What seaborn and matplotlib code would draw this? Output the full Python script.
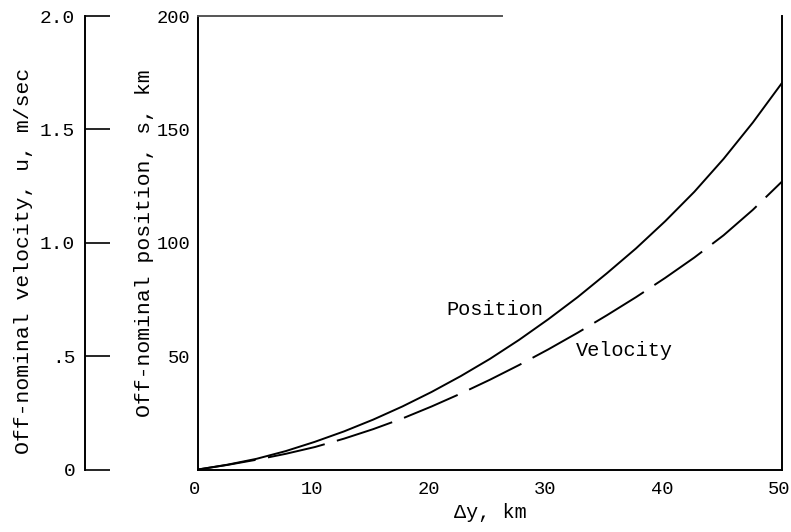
import numpy as np
import pandas as pd
import matplotlib
matplotlib.use("Agg")
import matplotlib.pyplot as plt
import matplotlib.transforms as mtransforms
import seaborn as sns

# valori
dy_km = [0, 2.5, 5, 7.5, 10, 12.5, 15, 17.5, 20, 22.5, 25,
         27.5, 30, 32.5, 35, 37.5, 40, 42.5, 45, 47.5, 50]
position_km = [0, 2.1, 4.7, 8.1, 12.2, 16.8, 22, 27.8, 34.2, 41.2, 48.8,
               57.2, 66.3, 76, 86.5, 97.5, 109.5, 122.5, 137, 153, 170.5]
velocity_ms = [0, 0.02, 0.043, 0.069, 0.099, 0.136, 0.178, 0.225, 0.278, 0.335, 0.396,
               0.461, 0.53, 0.603, 0.68, 0.76, 0.845, 0.935, 1.033, 1.145, 1.27]

x_ticks = [0, 10, 20, 30, 40, 50]
s_ticks = [0, 50, 100, 150, 200]
s_labels = ["", "50", "100", "150", "200"]
u_ticks = [0, 0.5, 1.0, 1.5, 2.0]
u_labels = ["0", ".5", "1.0", "1.5", "2.0"]

df = pd.DataFrame({"dy": dy_km, "s": position_km, "u": velocity_ms})

sns.set_theme(style="white")
plt.rcParams["font.family"] = ["Liberation Mono", "DejaVu Sans"]
plt.rcParams["text.color"] = "black"
plt.rcParams["axes.labelcolor"] = "black"
plt.rcParams["xtick.color"] = "black"
plt.rcParams["ytick.color"] = "black"

fig = plt.figure(figsize=(7.91, 5.32), dpi=100)
ax = fig.add_axes([198 / 791, 1 - 469.5 / 532, (782 - 198) / 791, (469.5 - 16) / 532])

sns.lineplot(data=df, x="dy", y="s", ax=ax, color="black", linewidth=1.4)
ax.set_xlim(0, 50)
ax.set_ylim(0, 200)
ax.set_xticks(x_ticks)
ax.set_xticklabels([str(t) for t in x_ticks])
ax.set_yticks(s_ticks)
ax.set_yticklabels(s_labels)
ax.tick_params(axis="x", direction="in", length=16, width=1.2, pad=8, labelsize=13.5)
ax.tick_params(axis="y", direction="in", length=0, pad=5.5, labelsize=13.5)
shift = mtransforms.ScaledTranslation(-3 / 100, 0, fig.dpi_scale_trans)
for lab in ax.get_xticklabels():
    lab.set_transform(lab.get_transform() + shift)
ax.set_xlabel("\u0394y, km", fontsize=14.5, labelpad=4)
ax.set_ylabel("Off-nominal position, s, km", fontsize=15.4, labelpad=2)
for side in ["left", "right", "top", "bottom"]:
    ax.spines[side].set_color("black")
    ax.spines[side].set_linewidth(1.4)
ax.spines["top"].set_bounds(0, 26)
ax.spines["top"].set_color("#555555")

ax2 = ax.twinx()
sns.lineplot(data=df, x="dy", y="u", ax=ax2, color="black", linewidth=1.4)
ax2.lines[0].set_dashes((30, 6.5))
ax2.set_ylim(0, 2.0)
ax2.set_xlim(0, 50)
ax2.yaxis.tick_left()
ax2.yaxis.set_label_position("left")
ax2.set_yticks(u_ticks)
ax2.set_yticklabels(u_labels)
ax2.spines["left"].set_position(("outward", 113 * 0.72))
ax2.spines["left"].set_color("black")
ax2.spines["left"].set_linewidth(1.4)
for side in ["right", "top", "bottom"]:
    ax2.spines[side].set_visible(False)
ax2.tick_params(axis="y", direction="in", length=18, width=1.2, pad=7, labelsize=14)
ax2.set_ylabel("Off-nominal velocity, u, m/sec", fontsize=15.4)
ax2.yaxis.set_label_coords(-0.283, 0.46)
ax2.set_xlabel("")

ax.text(25.4, 70.5, "Position", fontsize=14.6, ha="center", va="center")
ax.text(36.5, 52.3, "Velocity", fontsize=14.6, ha="center", va="center")

fig.savefig("out.png", dpi=100)
